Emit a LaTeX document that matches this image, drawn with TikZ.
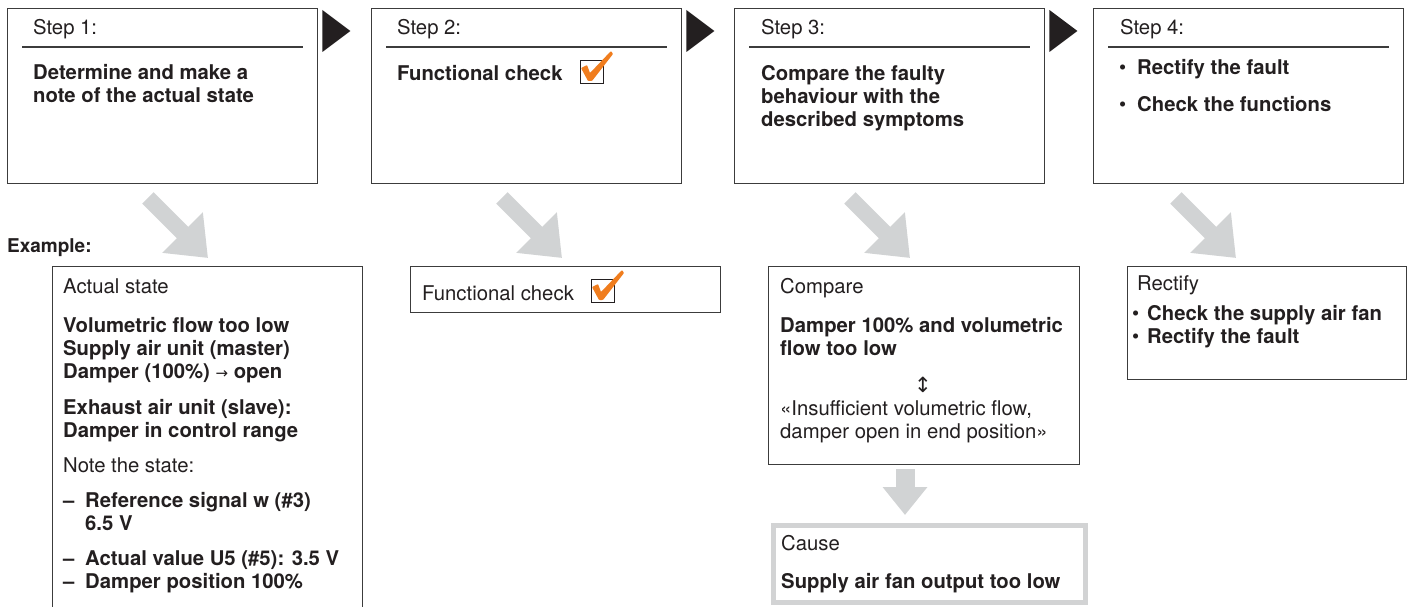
\documentclass[tikz,border=0pt]{standalone}
\usepackage{fontspec}
\setmainfont{TeX Gyre Heros}
\newfontfamily\symf{DejaVu Sans}
\usetikzlibrary{arrows.meta}
\definecolor{ink}{RGB}{35,31,32}
\definecolor{edge}{RGB}{60,60,60}
\definecolor{arrowgray}{RGB}{209,211,212}
\definecolor{causegray}{RGB}{210,211,212}
\definecolor{checkorange}{RGB}{240,125,30}
\tikzset{
  box/.style={draw=edge, line width=1.4pt, inner sep=0pt, anchor=north west},
  stepbox/.style={box, minimum width=310pt, minimum height=175pt},
  txt/.style={inner sep=0pt, anchor=base west, text=ink, font=\fontsize{20.3}{23}\selectfont},
  btxt/.style={txt, font=\fontsize{20.3}{23}\selectfont\bfseries},
  steprule/.style={draw=edge, line width=1.2pt},
  fatdiag/.style={draw=arrowgray, line width=16pt, -{Triangle[length=36pt,width=55pt]}},
  fatdown/.style={draw=arrowgray, line width=19pt, -{Triangle[length=28pt,width=43pt]}},
  chkbox/.style={draw=ink, line width=1.3pt, minimum size=23pt, inner sep=0pt, anchor=north west},
}
\newcommand\orangetick[1]{\fill[checkorange, rounded corners=0.8pt] ([shift={(1,8)}]#1.north west) -- ++(6,-3) -- ++(3,8) -- ++(21,-22) -- ++(2,3) -- ++(-21,27) -- ++(-4,0) -- cycle;}
\newcommand\steptri[1]{\fill[ink] ([shift={(4,2)}]#1.north east) -- ++(0,42) -- ++(28,-21) -- cycle;}
\begin{document}
\begin{tikzpicture}[x=1pt,y=-1pt]
\useasboundingbox (0,0) rectangle (1413,607);
\clip (0,0) rectangle (1413,607);
\fill[white] (0,0) rectangle (1413,607);

% step boxes
\node[stepbox] (s1) at (7,8) {};
\node[stepbox] (s2) at (371,8) {};
\node[stepbox] (s3) at (734,8) {};
\node[stepbox] (s4) at (1093,8) {};
\foreach \b in {s1,s2,s3,s4}{
  \draw[steprule] ([shift={(15,39)}]\b.north west) -- ([shift={(-15,39)}]\b.north east);
}
\steptri{s1}
\steptri{s2}
\steptri{s3}

\node[txt] (s1h) at (33,35) {Step 1:};
\node[btxt] (s1b1) at (33,80) {Determine and make a};
\node[btxt] (s1b2) at (33,103) {note of the actual state};
\node[txt] (s2h) at (397,35) {Step 2:};
\node[btxt] (s2b) at (397,81) {Functional check};
\node[chkbox] (s2c) at (580,60) {};
\orangetick{s2c}
\node[txt] (s3h) at (761,35) {Step 3:};
\node[btxt] (s3b1) at (761,81) {Compare the faulty};
\node[btxt] (s3b2) at (761,104) {behaviour with the};
\node[btxt] (s3b3) at (761,127) {described symptoms};
\node[txt] (s4h) at (1120,35) {Step 4:};
\node[txt] (s4d1) at (1119,75) {•};
\node[btxt] (s4t1) at (1137,75) {Rectify the fault};
\node[txt] (s4d2) at (1119,112) {•};
\node[btxt] (s4t2) at (1137,112) {Check the functions};

% diagonal arrows
\coordinate (a1s) at (147.9,197.9); \coordinate (a1t) at (208,258);
\coordinate (a2s) at (501.9,197.9); \coordinate (a2t) at (562,258);
\coordinate (a3s) at (849.9,197.9); \coordinate (a3t) at (910,258);
\coordinate (a4s) at (1175.9,197.9); \coordinate (a4t) at (1236,258);
\draw[fatdiag] (a1s) -- (a1t);
\draw[fatdiag] (a2s) -- (a2t);
\draw[fatdiag] (a3s) -- (a3t);
\draw[fatdiag] (a4s) -- (a4t);

\node[btxt, font=\fontsize{19}{22}\selectfont\bfseries] (ex) at (7,252) {Example:};

% actual state
\node[box, minimum width=310pt, minimum height=360pt] (act) at (52,266) {};
\node[txt] (act1) at (63,293) {Actual state};
\node[btxt] (act2a) at (63,332) {Volumetric flow too low};
\node[btxt] (act2b) at (63,355) {Supply air unit (master)};
\node[btxt] (act2c) at (63,378) {Damper (100\%) {\symf\mdseries\fontsize{15}{15}\selectfont →} open};
\node[btxt] (act3a) at (63,414) {Exhaust air unit (slave):};
\node[btxt] (act3b) at (63,437) {Damper in control range};
\node[txt] (act4) at (63,472) {Note the state:};
\node[btxt] (act5d) at (63,507) {–};
\node[btxt] (act5a) at (85,507) {Reference signal w (\#3)};
\node[btxt] (act5b) at (85,530) {6.5 V};
\node[btxt] (act6d) at (63,565) {–};
\node[btxt] (act6) at (85,565) {Actual value U5 (\#5): 3.5 V};
\node[btxt] (act7d) at (63,588) {–};
\node[btxt] (act7) at (85,588) {Damper position 100\%};

% functional check
\node[box, minimum width=310pt, minimum height=46pt] (fcb) at (410,266) {};
\node[txt] (fc) at (422,300) {Functional check};
\node[chkbox] (fcc) at (591,279) {};
\orangetick{fcc}

% compare
\node[box, minimum width=311pt, minimum height=198pt] (cmb) at (768,266) {};
\node[txt] (cm1) at (780,293) {Compare};
\node[btxt] (cm2a) at (780,332) {Damper 100\% and volumetric};
\node[btxt] (cm2b) at (780,355) {flow too low};
\node[inner sep=0pt, text=ink, font=\symf\fontsize{21}{21}\selectfont] (cm3) at (923,385) {↕};
\node[txt] (cm4a) at (780,415) {«Insufficient volumetric flow,};
\node[txt] (cm4b) at (780,438) {damper open in end position»};

\coordinate (d1s) at (905,469); \coordinate (d1t) at (905,515);
\draw[fatdown] (d1s) -- (d1t);

% cause
\node[box, draw=causegray, line width=5pt, minimum width=312pt, minimum height=77pt] (cab) at (770.5,522.5) {};
\node[txt] (ca1) at (781,550) {Cause};
\node[btxt] (ca2) at (781,588) {Supply air fan output too low};

% rectify
\node[box, minimum width=279pt, minimum height=113pt] (rfb) at (1127,266) {};
\node[txt] (rf1) at (1137,290) {Rectify};
\node[txt] (rfd1) at (1132,320) {•};
\node[btxt] (rf2) at (1147,320) {Check the supply air fan};
\node[txt] (rfd2) at (1132,343) {•};
\node[btxt] (rf3) at (1147,343) {Rectify the fault};
\end{tikzpicture}
\end{document}
